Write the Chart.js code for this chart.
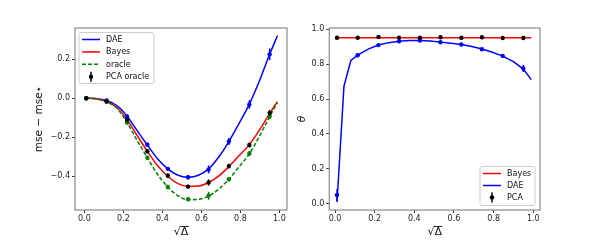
<!DOCTYPE html>
<html>
<head>
<meta charset="utf-8">
<script src="https://cdn.jsdelivr.net/npm/chart.js@4.4.0/dist/chart.umd.min.js"></script>
<style>
  body { margin: 0; background: #fff; }
  #wrap { position: relative; width: 600px; height: 240px; }
  #mseChart { position: absolute; left: 0; top: 0; }
  #thetaChart { position: absolute; left: 285px; top: 0; }
</style>
</head>
<body>
<div id="wrap">
  <canvas id="mseChart" width="300" height="240"></canvas>
  <canvas id="thetaChart" width="315" height="240"></canvas>
</div>
<script>
// sqrt(Delta) grid of the simulation points and of the theory curves
const markerX = [0.01, 0.114, 0.219, 0.323, 0.428, 0.532, 0.637, 0.741, 0.846, 0.95];
const curveX = [0.01, 0.06, 0.114, 0.17, 0.219, 0.27, 0.323, 0.375, 0.428, 0.48, 0.532, 0.585, 0.637, 0.69, 0.741, 0.79, 0.846, 0.9, 0.95, 0.99];

// left panel: mse - mse*
const daeCurve = [0, -0.002, -0.012, -0.04, -0.092, -0.165, -0.24, -0.31, -0.362, -0.395, -0.405, -0.395, -0.362, -0.3, -0.222, -0.135, -0.03, 0.095, 0.225, 0.32];
const bayesCurve = [0, -0.003, -0.017, -0.05, -0.11, -0.19, -0.272, -0.345, -0.4, -0.438, -0.452, -0.45, -0.432, -0.398, -0.35, -0.298, -0.238, -0.16, -0.078, -0.017];
const oracleCurve = [0, -0.003, -0.018, -0.055, -0.125, -0.215, -0.305, -0.39, -0.455, -0.5, -0.52, -0.518, -0.502, -0.465, -0.415, -0.355, -0.285, -0.19, -0.095, -0.022];
const daeMarks = [0, -0.012, -0.094, -0.238, -0.362, -0.405, -0.365, -0.222, -0.032, 0.225];
const daeErr = [0.003, 0.005, 0.01, 0.01, 0.01, 0.012, 0.02, 0.018, 0.022, 0.03];
const pcaOracleMarks = [0, -0.017, -0.11, -0.272, -0.397, -0.453, -0.432, -0.348, -0.24, -0.075];
const pcaOracleErr = [0.003, 0.005, 0.008, 0.01, 0.012, 0.01, 0.016, 0.012, 0.012, 0.015];
const oracleMarks = [0, -0.017, -0.125, -0.305, -0.455, -0.518, -0.5, -0.415, -0.283, -0.093];
const oracleErr = [0.003, 0.005, 0.01, 0.01, 0.012, 0.008, 0.02, 0.01, 0.012, 0.015];

// right panel: theta
const thetaCurveX = [0.01, 0.045, 0.08, 0.114, 0.17, 0.219, 0.27, 0.323, 0.375, 0.428, 0.48, 0.532, 0.585, 0.637, 0.69, 0.741, 0.79, 0.846, 0.9, 0.95, 0.99];
const thetaDae = [0.01, 0.675, 0.822, 0.852, 0.888, 0.91, 0.924, 0.932, 0.936, 0.937, 0.934, 0.927, 0.921, 0.913, 0.902, 0.887, 0.87, 0.847, 0.815, 0.772, 0.712];
const bayesThetaX = [0.01, 0.99];
const bayesTheta = [0.952, 0.952];
const thetaDaeMarks = [0.05, 0.852, 0.91, 0.932, 0.936, 0.926, 0.913, 0.886, 0.848, 0.776];
const thetaDaeErr = [0.035, 0.008, 0.007, 0.006, 0.005, 0.006, 0.007, 0.008, 0.01, 0.02];
const pcaTheta = [0.952, 0.952, 0.957, 0.953, 0.953, 0.955, 0.952, 0.955, 0.951, 0.951];
const pcaThetaErr = [0.004, 0.004, 0.004, 0.004, 0.004, 0.004, 0.004, 0.004, 0.004, 0.004];

// tick labels
const xTicks = [0, 0.2, 0.4, 0.6, 0.8, 1.0];
const mseTicks = [-0.4, -0.2, 0.0, 0.2];
const thetaTicks = [0, 0.2, 0.4, 0.6, 0.8, 1.0];

const BLUE = '#0000ff', RED = '#ff0000', GREEN = '#008000', BLACK = '#000000';

Chart.defaults.font.family = "'DejaVu Sans', sans-serif";
Chart.defaults.font.size = 8;
Chart.defaults.color = '#222';

function zip(xs, ys) {
  return xs.map(function (x, i) { return { x: x, y: ys[i] }; });
}

function fmt(v) {
  return v.toFixed(1).replace('-', '\u2212');
}

// vertical error bars for the simulation points
const errorBars = {
  id: 'errorBars',
  afterDatasetDraw(chart, args) {
    const ds = chart.data.datasets[args.index];
    if (!ds.errors) return;
    const ctx = chart.ctx, yScale = chart.scales.y, area = chart.chartArea;
    ctx.save();
    ctx.beginPath();
    ctx.rect(area.left, area.top, area.width, area.height);
    ctx.clip();
    ctx.strokeStyle = ds.backgroundColor;
    ctx.lineWidth = 1.5;
    args.meta.data.forEach(function (pt, i) {
      const v = ds.data[i].y, e = ds.errors[i];
      ctx.beginPath();
      ctx.moveTo(pt.x, yScale.getPixelForValue(v - e));
      ctx.lineTo(pt.x, yScale.getPixelForValue(v + e));
      ctx.stroke();
    });
    ctx.restore();
  }
};

// matplotlib style frame around the axes, plus the bar of the square root in the x title
const frame = {
  id: 'frame',
  afterDraw(chart) {
    const a = chart.chartArea, ctx = chart.ctx;
    ctx.save();
    ctx.strokeStyle = '#8a8a8a';
    ctx.lineWidth = 1.2;
    ctx.strokeRect(a.left, a.top, a.width, a.height);

    const xs = chart.scales.x;
    ctx.font = "11px 'DejaVu Sans'";
    const wRoot = ctx.measureText('\u221A').width;
    const wAll = ctx.measureText('\u221A\u0394').width;
    const cx = (a.left + a.right) / 2;
    const yBar = xs.bottom - 1.4 - 6.6 - 5.5;
    ctx.strokeStyle = '#111';
    ctx.lineWidth = 0.9;
    ctx.beginPath();
    ctx.moveTo(cx - wAll / 2 + wRoot - 0.5, yBar);
    ctx.lineTo(cx + wAll / 2 + 0.5, yBar);
    ctx.stroke();
    ctx.restore();
  }
};

// legend drawn inside the axes
const boxLegend = {
  id: 'boxLegend',
  afterDraw(chart, args, opts) {
    const ctx = chart.ctx;
    ctx.save();
    ctx.beginPath();
    ctx.roundRect(opts.x, opts.y, opts.w, opts.h, 2);
    ctx.fillStyle = 'rgba(255,255,255,0.8)';
    ctx.fill();
    ctx.strokeStyle = '#cccccc';
    ctx.lineWidth = 1;
    ctx.stroke();
    ctx.font = "8px 'DejaVu Sans'";
    ctx.textBaseline = 'middle';
    opts.rows.forEach(function (r, i) {
      const y = opts.y + 7 + i * opts.step;
      const x0 = opts.x + 3, x1 = opts.x + 21;
      ctx.strokeStyle = r.color;
      ctx.fillStyle = r.color;
      ctx.lineWidth = 1.5;
      ctx.setLineDash(r.kind === 'dash' ? [4, 2] : []);
      if (r.kind === 'point') {
        const cx = (x0 + x1) / 2;
        ctx.beginPath();
        ctx.moveTo(cx, y - 5);
        ctx.lineTo(cx, y + 5);
        ctx.stroke();
        ctx.beginPath();
        ctx.arc(cx, y, 2.2, 0, Math.PI * 2);
        ctx.fill();
      } else {
        ctx.beginPath();
        ctx.moveTo(x0, y);
        ctx.lineTo(x1, y);
        ctx.stroke();
      }
      ctx.setLineDash([]);
      ctx.fillStyle = '#111';
      ctx.fillText(r.label, opts.x + 27, y + 0.5);
    });
    ctx.restore();
  }
};

function curve(data, color, dash, order, smooth) {
  return {
    data: data, borderColor: color, backgroundColor: color, borderWidth: 1.5,
    borderDash: dash, pointRadius: 0, order: order,
    cubicInterpolationMode: smooth ? 'monotone' : 'default', tension: 0
  };
}

function marks(data, errors, color, order) {
  return {
    data: data, errors: errors, showLine: false, backgroundColor: color, borderColor: color,
    pointRadius: 2.2, pointBorderWidth: 0, order: order
  };
}

function axes(xRange, yRange, yTickVals, yWidth, yTitle, yItalic) {
  return {
    x: {
      type: 'linear', min: xRange[0], max: xRange[1],
      afterBuildTicks: function (s) { s.ticks = xTicks.map(function (v) { return { value: v }; }); },
      afterFit: function (s) { s.height = 30; },
      ticks: { callback: fmt, padding: 1, maxRotation: 0 },
      grid: { drawOnChartArea: false, drawTicks: true, tickLength: 3, color: '#333' },
      border: { display: false },
      title: { display: true, text: '\u221A\u0394', font: { size: 11 }, padding: { top: 0, bottom: 1.4 }, color: '#111' }
    },
    y: {
      type: 'linear', min: yRange[0], max: yRange[1],
      afterBuildTicks: function (s) { s.ticks = yTickVals.map(function (v) { return { value: v }; }); },
      afterFit: function (s) { s.width = yWidth; },
      ticks: { callback: fmt, padding: 2 },
      grid: { drawOnChartArea: false, drawTicks: true, tickLength: 3, color: '#333' },
      border: { display: false },
      title: { display: true, text: yTitle, font: { size: 10.5, style: yItalic ? 'italic' : 'normal' }, padding: { top: 2.7, bottom: 0 }, color: '#111' }
    }
  };
}

const mseChart = new Chart(document.getElementById('mseChart'), {
  type: 'line',
  data: {
    datasets: [
      curve(zip(curveX, daeCurve), BLUE, [], 6, true),
      curve(zip(curveX, bayesCurve), RED, [], 5, true),
      curve(zip(curveX, oracleCurve), GREEN, [4, 2], 4, true),
      marks(zip(markerX, daeMarks), daeErr, BLUE, 3),
      marks(zip(markerX, oracleMarks), oracleErr, GREEN, 2),
      marks(zip(markerX, pcaOracleMarks), pcaOracleErr, BLACK, 1)
    ]
  },
  options: {
    responsive: false,
    animation: false,
    layout: { padding: { left: 30, top: 28, right: 13, bottom: 0 } },
    scales: axes([-0.048, 1.039], [-0.573, 0.36], mseTicks, 45, 'mse \u2212 mse\u22C6', false),
    plugins: {
      legend: { display: false },
      tooltip: { enabled: false },
      boxLegend: {
        x: 79, y: 32.5, w: 75, h: 51, step: 12.4,
        rows: [
          { label: 'DAE', color: BLUE, kind: 'line' },
          { label: 'Bayes', color: RED, kind: 'line' },
          { label: 'oracle', color: GREEN, kind: 'dash' },
          { label: 'PCA oracle', color: BLACK, kind: 'point' }
        ]
      }
    }
  },
  plugins: [errorBars, frame, boxLegend]
});

const thetaChart = new Chart(document.getElementById('thetaChart'), {
  type: 'line',
  data: {
    datasets: [
      curve(zip(bayesThetaX, bayesTheta), RED, [], 5, false),
      curve(zip(thetaCurveX, thetaDae), BLUE, [], 4, false),
      marks(zip(markerX, thetaDaeMarks), thetaDaeErr, BLUE, 3),
      marks(zip(markerX, pcaTheta), pcaThetaErr, BLACK, 2)
    ]
  },
  options: {
    responsive: false,
    animation: false,
    layout: { padding: { left: 8, top: 28, right: 60, bottom: 0 } },
    scales: axes([-0.029, 1.034], [-0.036, 1.008], thetaTicks, 36.3, '\u03B8', true),
    plugins: {
      legend: { display: false },
      tooltip: { enabled: false },
      boxLegend: {
        x: 195, y: 166.5, w: 55, h: 39, step: 12,
        rows: [
          { label: 'Bayes', color: RED, kind: 'line' },
          { label: 'DAE', color: BLUE, kind: 'line' },
          { label: 'PCA', color: BLACK, kind: 'point' }
        ]
      }
    }
  },
  plugins: [errorBars, frame, boxLegend]
});
</script>
</body>
</html>
